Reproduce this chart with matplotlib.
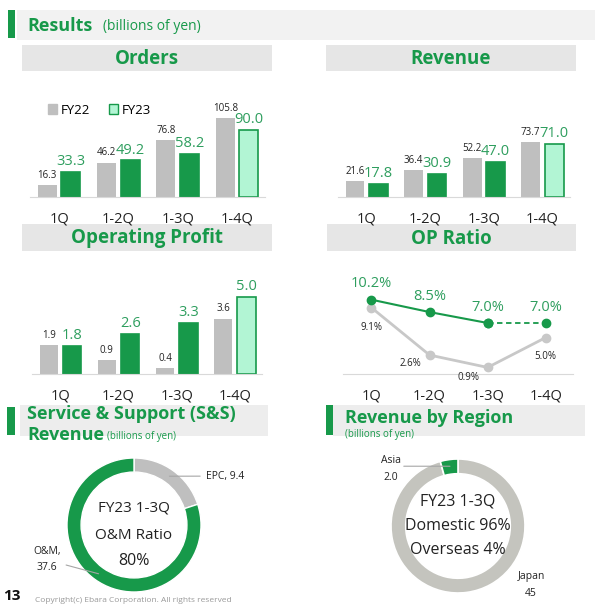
import matplotlib
matplotlib.use("Agg")
import matplotlib.pyplot as plt
from matplotlib.patches import Rectangle, Patch
import numpy as np

plt.rcParams['font.family'] = ['Open Sans', 'DejaVu Sans']

# ---------------- data ----------------
quarters = ['1Q', '1-2Q', '1-3Q', '1-4Q']
orders_fy22 = [16.3, 46.2, 76.8, 105.8]
orders_fy23 = [33.3, 49.2, 58.2, 90.0]
revenue_fy22 = [21.6, 36.4, 52.2, 73.7]
revenue_fy23 = [17.8, 30.9, 47.0, 71.0]
op_fy22 = [1.9, 0.9, 0.4, 3.6]
op_fy23 = [1.8, 2.6, 3.3, 5.0]
opr_fy22 = [9.1, 2.6, 0.9, 5.0]
opr_fy23 = [10.2, 8.5, 7.0, 7.0]
forecast = [False, False, False, True]
ss_labels = ['EPC', 'O&M']
ss_values = [9.4, 37.6]
region_labels = ['Japan', 'Asia']
region_values = [45, 2.0]

# ---------------- style ----------------
GREEN = '#17994A'
LGREEN = '#B2F5D4'
GRAY = '#BFBFBF'
BAND = '#E6E6E6'
TXT = '#222222'
LBLG = '#2E9E5E'

W, H = 595, 605
fig = plt.figure(figsize=(W / 100, H / 100), dpi=100)


def px(x0, y0, x1, y1):
    return [x0 / W, 1 - y1 / H, (x1 - x0) / W, (y1 - y0) / H]


bg = fig.add_axes([0, 0, 1, 1], zorder=-5)
bg.set_xlim(0, W)
bg.set_ylim(H, 0)
bg.axis('off')


def rect(x0, y0, x1, y1, c):
    bg.add_patch(Rectangle((x0, y0), x1 - x0, y1 - y0, color=c, lw=0))


# header
rect(17, 10, 595, 40, '#F2F2F2')
rect(8, 10, 15, 38, GREEN)
bg.text(27, 26, 'Results', fontsize=13, fontweight='bold', color=GREEN, va='center')
bg.text(103, 27, '(billions of yen)', fontsize=10, color=GREEN, va='center')

# sub bands
for (x0, y0, x1, y1, t) in [(22, 45, 272, 71, 'Orders'), (326, 45, 576, 71, 'Revenue'),
                            (22, 224, 272, 251, 'Operating Profit'), (327, 224, 576, 251, 'OP Ratio')]:
    rect(x0, y0, x1, y1, BAND)
    bg.text((x0 + x1) / 2, (y0 + y1) / 2 + 1, t, fontsize=13.5, fontweight='bold', color=GREEN,
            ha='center', va='center')

# bottom bands
rect(20, 405, 268, 436, '#EDEDED')
rect(7, 407, 15, 435, GREEN)
bg.text(27, 414, 'Service & Support (S&S)', fontsize=13, fontweight='bold', color=GREEN, va='center')
bg.text(27, 435, 'Revenue', fontsize=13, fontweight='bold', color=GREEN, va='center')
bg.text(107, 436, '(billions of yen)', fontsize=7, color=GREEN, va='center')

rect(333, 405, 585, 436, '#EDEDED')
rect(326, 405, 333, 435, GREEN)
bg.text(345, 418, 'Revenue by Region', fontsize=13, fontweight='bold', color=GREEN, va='center')
bg.text(345, 435, '(billions of yen)', fontsize=7, color=GREEN, va='center')

# footer
bg.text(3, 596, '13', fontsize=11, fontweight='bold', color='#111111', va='center')
bg.text(35, 601, 'Copyright(c) Ebara Corporation. All rights reserved', fontsize=6, color='#999999', va='center')

x = np.arange(len(quarters))


def style_axis(ax, ylim):
    ax.set_xlim(-0.49, 3.47)
    ax.set_ylim(0, ylim)
    for s in ['top', 'right', 'left']:
        ax.spines[s].set_visible(False)
    ax.spines['bottom'].set_color('#D9D9D9')
    ax.set_yticks([])
    ax.set_xticks(x, quarters)
    ax.tick_params(axis='x', length=0, pad=10.5, labelsize=10.5, labelcolor=TXT)
    ax.patch.set_alpha(0)


def bar_chart(ax, a, b, ylim):
    style_axis(ax, ylim)
    ax.bar(x - 0.2, a, 0.32, color=GRAY)
    fc = [LGREEN if f else GREEN for f in forecast]
    ax.bar(x + 0.2, b, 0.32, color=fc, edgecolor=GREEN, linewidth=1.2)
    for xi, v in zip(x, a):
        ax.annotate(f'{v:.1f}', (xi - 0.2, v), xytext=(0, 3), textcoords='offset points',
                    ha='center', va='bottom', fontsize=7, color=TXT)
    for xi, v in zip(x, b):
        ax.annotate(f'{v:.1f}', (xi + 0.2, v), xytext=(0, 2), textcoords='offset points',
                    ha='center', va='bottom', fontsize=10.5, color=LBLG)


ax1 = fig.add_axes(px(30, 100, 265, 197))
bar_chart(ax1, orders_fy22, orders_fy23, 130)
ax1.legend(handles=[Patch(color=GRAY, label='FY22'),
                    Patch(facecolor=LGREEN, edgecolor=GREEN, label='FY23')],
           ncol=2, loc='center left', bbox_to_anchor=(48 / W, 1 - 110 / H),
           bbox_transform=fig.transFigure, frameon=False, fontsize=9.5,
           handlelength=0.7, handleheight=0.7, handletextpad=0.3, columnspacing=1.4,
           borderpad=0, borderaxespad=0)

ax2 = fig.add_axes(px(338, 100, 570, 197))
bar_chart(ax2, revenue_fy22, revenue_fy23, 130)

ax3 = fig.add_axes(px(32, 280, 262, 374))
bar_chart(ax3, op_fy22, op_fy23, 6.1)

# OP ratio
ax4 = fig.add_axes(px(343, 280, 573, 374))
style_axis(ax4, 12.9)
ax4.plot(x, opr_fy22, color='#C8C8C8', lw=2, marker='o', ms=6, zorder=2)
solid = [i for i, f in enumerate(forecast) if not f]
ax4.plot(x[solid], np.array(opr_fy23)[solid], color=GREEN, lw=1.5, marker='o', ms=6, zorder=3)
ax4.plot(x[-2:], opr_fy23[-2:], color=GREEN, lw=1.3, ls=(0, (3, 2)), marker='o', ms=6, zorder=3)
for xi, v in zip(x, opr_fy23):
    ax4.annotate(f'{v:.1f}%', (xi, v), xytext=(0, 11.5), textcoords='offset points',
                 ha='center', va='center', fontsize=10.5, color=LBLG)
gray_offsets = [(0, -14), (-13.5, -6), (-14, -7), (-0.5, -13.5)]
for xi, v, off in zip(x, opr_fy22, gray_offsets):
    ax4.annotate(f'{v:.1f}%', (xi, v), xytext=off, textcoords='offset points',
                 ha='center', va='center', fontsize=7, color=TXT)

# S&S donut
ax5 = fig.add_axes(px(134 - 67, 525 - 67, 134 + 67, 525 + 67))
wedges, _ = ax5.pie(ss_values, colors=[GRAY, GREEN], startangle=90, counterclock=False,
                    radius=1, wedgeprops=dict(width=0.21, edgecolor='white', linewidth=1))
ax5.set_xlim(-1, 1)
ax5.set_ylim(-1, 1)
ax5.set_aspect('equal')
ss_text = [(1.07, 0.73, 'left'), (-1.3, -0.52, 'center')]
for w, lab, v, (tx, ty, ha) in zip(wedges, ss_labels, ss_values, ss_text):
    ang = np.deg2rad((w.theta1 + w.theta2) / 2)
    pt = (0.9 * np.cos(ang), 0.9 * np.sin(ang))
    sep = ' ' if ha == 'left' else '\n'
    ax5.annotate(f'{lab},{sep}{v}', pt, xytext=(tx, ty), ha=ha, va='center', fontsize=7.5,
                 color=TXT, linespacing=1.6, annotation_clip=False,
                 arrowprops=dict(arrowstyle='-', color='#A6A6A6', lw=0.8, shrinkA=2, shrinkB=0))
ratio = ss_values[1] / sum(ss_values) * 100
ax5.text(0, 0.25, 'FY23 1-3Q', ha='center', va='center', fontsize=11, color=TXT)
ax5.text(0, -0.15, 'O&M Ratio', ha='center', va='center', fontsize=11, color=TXT)
ax5.text(0, -0.53, f'{ratio:.0f}%', ha='center', va='center', fontsize=11.5, color=TXT)

# Region donut
ax6 = fig.add_axes(px(458 - 67, 526 - 67, 458 + 67, 526 + 67))
wedges, _ = ax6.pie(region_values, colors=['#C4C4BE', GREEN], startangle=90, counterclock=False,
                    radius=1, wedgeprops=dict(width=0.22, edgecolor='white', linewidth=1.2))
ax6.set_xlim(-1, 1)
ax6.set_ylim(-1, 1)
ax6.set_aspect('equal')
# Asia label with leader
w = wedges[1]
ang = np.deg2rad((w.theta1 + w.theta2) / 2)
pt = (0.9 * np.cos(ang), 0.9 * np.sin(ang))
ax6.annotate(f'{region_labels[1]}\n{region_values[1]:.1f}', pt, xytext=(-1.0, 0.85), ha='center',
             va='center', fontsize=7.5, color=TXT, linespacing=1.8, annotation_clip=False,
             arrowprops=dict(arrowstyle='-', color='#A6A6A6', lw=0.8, shrinkA=0, shrinkB=0,
                             relpos=(1.0, 0.6)))
ax6.text(1.09, -0.88, f'{region_labels[0]}\n{region_values[0]:g}', ha='center', va='center',
         fontsize=7.5, color=TXT, linespacing=1.8)
dom = region_values[0] / sum(region_values) * 100
ovs = region_values[1] / sum(region_values) * 100
ax6.text(0, 0.37, 'FY23 1-3Q', ha='center', va='center', fontsize=11.5, color=TXT)
ax6.text(0, 0.0, f'Domestic {dom:.0f}%', ha='center', va='center', fontsize=11.5, color=TXT)
ax6.text(0, -0.36, f'Overseas {ovs:.0f}%', ha='center', va='center', fontsize=11.5, color=TXT)

fig.savefig('out.png', dpi=100)
